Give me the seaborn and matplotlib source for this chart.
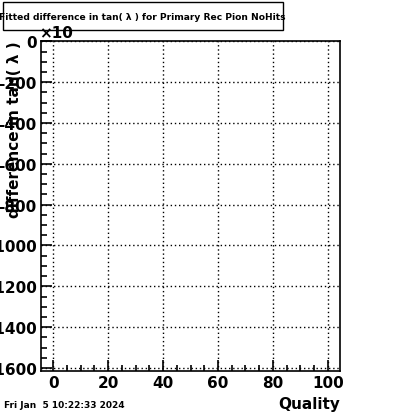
import matplotlib
matplotlib.use("Agg")
import matplotlib.pyplot as plt
import seaborn as sns
import numpy as np
from matplotlib.ticker import MultipleLocator, FuncFormatter
from matplotlib.patches import Rectangle

# Data (the reference histogram is empty)
quality = []
difference = []
x_ticks = [0, 20, 40, 60, 80, 100]
y_ticks = [0, -200, -400, -600, -800, -1000, -1200, -1400, -1600]
title = "Fitted difference in tan( \u03bb ) for Primary Rec Pion NoHits"
x_label = "Quality"
y_label = "difference in tan( \u03bb )"
date_text = "Fri Jan  5 10:22:33 2024"

sns.set_style("white")
plt.rcParams['font.family'] = ['DejaVu Sans']
plt.rcParams['text.color'] = 'black'
plt.rcParams['axes.labelcolor'] = 'black'
plt.rcParams['xtick.color'] = 'black'
plt.rcParams['ytick.color'] = 'black'

W, H = 400, 414
fig = plt.figure(figsize=(W / 100, H / 100), dpi=100)
ax = fig.add_axes([41 / W, 1 - 372 / H, (340 - 41) / W, (372 - 42) / H])

sns.lineplot(x=np.array(quality, dtype=float), y=np.array(difference, dtype=float), ax=ax)

ax.set_xlim(-4.4, 104.4)
ax.set_ylim(-1615, 2)
ax.set_xticks(x_ticks)
ax.set_yticks(y_ticks)
ax.xaxis.set_minor_locator(MultipleLocator(5))
ax.yaxis.set_minor_locator(MultipleLocator(50))
ax.yaxis.set_major_formatter(FuncFormatter(lambda v, p: "%d" % v if v == 0 else "-%d" % abs(v)))
ax.tick_params(axis='both', which='both', direction='in', top=False, right=False,
               bottom=True, left=True, labelsize=11, colors='black', width=1.2)
ax.tick_params(axis='both', which='major', length=8, pad=3)
ax.tick_params(axis='both', which='minor', length=4)
for lab in ax.get_xticklabels() + ax.get_yticklabels():
    lab.set_fontweight('bold')
    lab.set_color('black')

ax.grid(True, which='major', linestyle=(0, (1, 2)), color='black', linewidth=1.0)
for s in ax.spines.values():
    s.set_visible(True)
    s.set_color('black')
    s.set_linewidth(1.2)

# exponent marker
fig.text(39 / W, 1 - 34 / H, "\u00d710", fontsize=11, fontweight='bold', ha='left', va='center',
         color='black')

# y label
fig.text(15 / W, 1 - 41 / H, y_label, rotation=90, fontsize=11, fontweight='bold',
         ha='center', va='top', color='black')

# x label
fig.text(340 / W, 1 - 405 / H, x_label, fontsize=11, fontweight='bold', ha='right', va='center',
         color='black')

# date
fig.text(4 / W, 1 - 406 / H, date_text, fontsize=6.5, fontweight='bold', ha='left', va='center',
         color='black')

# title box
fig.patches.append(Rectangle((3 / W, 1 - 31 / H), 280 / W, 28 / H, transform=fig.transFigure,
                             fill=False, edgecolor='black', linewidth=1.0))
fig.text(142 / W, 1 - 17 / H, title, fontsize=6.6, fontweight='bold', ha='center', va='center',
         color='black')

fig.savefig("out.png", dpi=100)
